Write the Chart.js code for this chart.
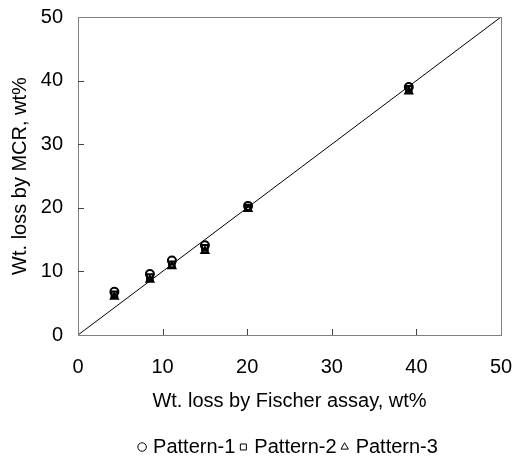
<!DOCTYPE html>
<html>
<head>
<meta charset="utf-8">
<script src="https://cdn.jsdelivr.net/npm/chart.js@4.4.1/dist/chart.umd.min.js"></script>
<style>
  html, body { margin: 0; padding: 0; background: #fff; }
  #wrap { width: 516px; height: 460px; }
</style>
</head>
<body>
<div id="wrap"><canvas id="myChart" width="516" height="460"></canvas></div>
<script>
// values
const fischer = [4.3, 8.5, 11.1, 15.0, 20.1, 39.1];
const pattern1 = [6.8, 9.6, 11.7, 14.1, 20.3, 39.0];
const pattern2 = [6.4, 9.1, 11.1, 13.7, 20.0, 38.7];
const pattern3 = [6.0, 8.7, 10.8, 13.2, 19.8, 38.3];
const parity = [0, 50];
const tickValues = [0, 10, 20, 30, 40, 50];

const FONT = "'Liberation Sans', Arial, sans-serif";

const toPoints = (xs, ys) => xs.map((x, i) => ({ x: x, y: ys[i] }));

const markerSet = (label, ys, style) => ({
  type: 'scatter',
  label: label,
  data: toPoints(fischer, ys),
  pointStyle: style,
  pointRadius: 4,
  pointHoverRadius: 4,
  borderColor: '#000',
  backgroundColor: 'rgba(255,255,255,0)',
  borderWidth: 2
});

// inner tick marks + grey frame round the plot, legend centred under the plot
const frame = {
  id: 'frame',
  afterLayout(chart) {
    const lg = chart.legend;
    if (!lg) return;
    const a = chart.chartArea;
    const shift = (a.left + a.right) / 2 - (lg.left + lg.right) / 2;
    lg.left += shift;
    lg.right += shift;
  },
  afterDatasetsDraw(chart) {
    const { ctx, chartArea: a, scales: { x, y } } = chart;
    ctx.save();
    ctx.strokeStyle = '#808080';
    ctx.lineWidth = 1;
    ctx.strokeRect(a.left + 0.5, a.top + 0.5, a.right - a.left, a.bottom - a.top);
    ctx.strokeStyle = '#444';
    ctx.beginPath();
    tickValues.slice(1, -1).forEach(v => {
      const px = Math.round(x.getPixelForValue(v)) + 0.5;
      ctx.moveTo(px, a.bottom);
      ctx.lineTo(px, a.bottom - 6);
      const py = Math.round(y.getPixelForValue(v)) + 0.5;
      ctx.moveTo(a.left, py);
      ctx.lineTo(a.left + 6, py);
    });
    ctx.stroke();
    ctx.restore();
  }
};

const canvas = document.getElementById('myChart');
const myChart = new Chart(canvas, {
  data: {
    datasets: [
      {
        type: 'line',
        label: 'parity',
        data: toPoints(parity, parity),
        borderColor: '#000',
        borderWidth: 1,
        pointRadius: 0,
        fill: false
      },
      markerSet('Pattern-1', pattern1, 'circle'),
      markerSet('Pattern-2', pattern2, 'rect'),
      markerSet('Pattern-3', pattern3, 'triangle')
    ]
  },
  options: {
    responsive: false,
    animation: false,
    layout: { padding: { top: 17, right: 15, left: 0, bottom: -7 } },
    scales: {
      x: {
        type: 'linear',
        min: 0, max: 50,
        afterFit: s => { s.height = 95; },
        ticks: { stepSize: 10, padding: 0, color: '#000', font: { family: FONT, size: 20 } },
        grid: { display: false, drawTicks: true, tickLength: 20 },
        border: { display: false },
        title: {
          display: true,
          text: 'Wt. loss by Fischer assay, wt%',
          color: '#000',
          font: { family: FONT, size: 20 },
          padding: { top: 0, bottom: 17 }
        }
      },
      y: {
        type: 'linear',
        min: 0, max: 50,
        afterFit: s => { s.width = 78; },
        ticks: { stepSize: 10, padding: 0, color: '#000', font: { family: FONT, size: 20 } },
        grid: { display: false, drawTicks: true, tickLength: 15 },
        border: { display: false },
        title: {
          display: true,
          text: 'Wt. loss by MCR, wt%',
          color: '#000',
          font: { family: FONT, size: 20 },
          padding: { top: 8, bottom: 0 }
        }
      }
    },
    plugins: {
      legend: {
        position: 'bottom',
        labels: {
          usePointStyle: true,
          boxWidth: 2,
          boxHeight: 6,
          padding: 7,
          color: '#000',
          font: { family: FONT, size: 20 },
          filter: item => item.text !== 'parity',
          generateLabels: chart => Chart.defaults.plugins.legend.labels.generateLabels(chart)
            .map(item => Object.assign(item, { lineWidth: 1 }))
        }
      },
      tooltip: { enabled: false }
    }
  },
  plugins: [frame]
});
</script>
</body>
</html>
